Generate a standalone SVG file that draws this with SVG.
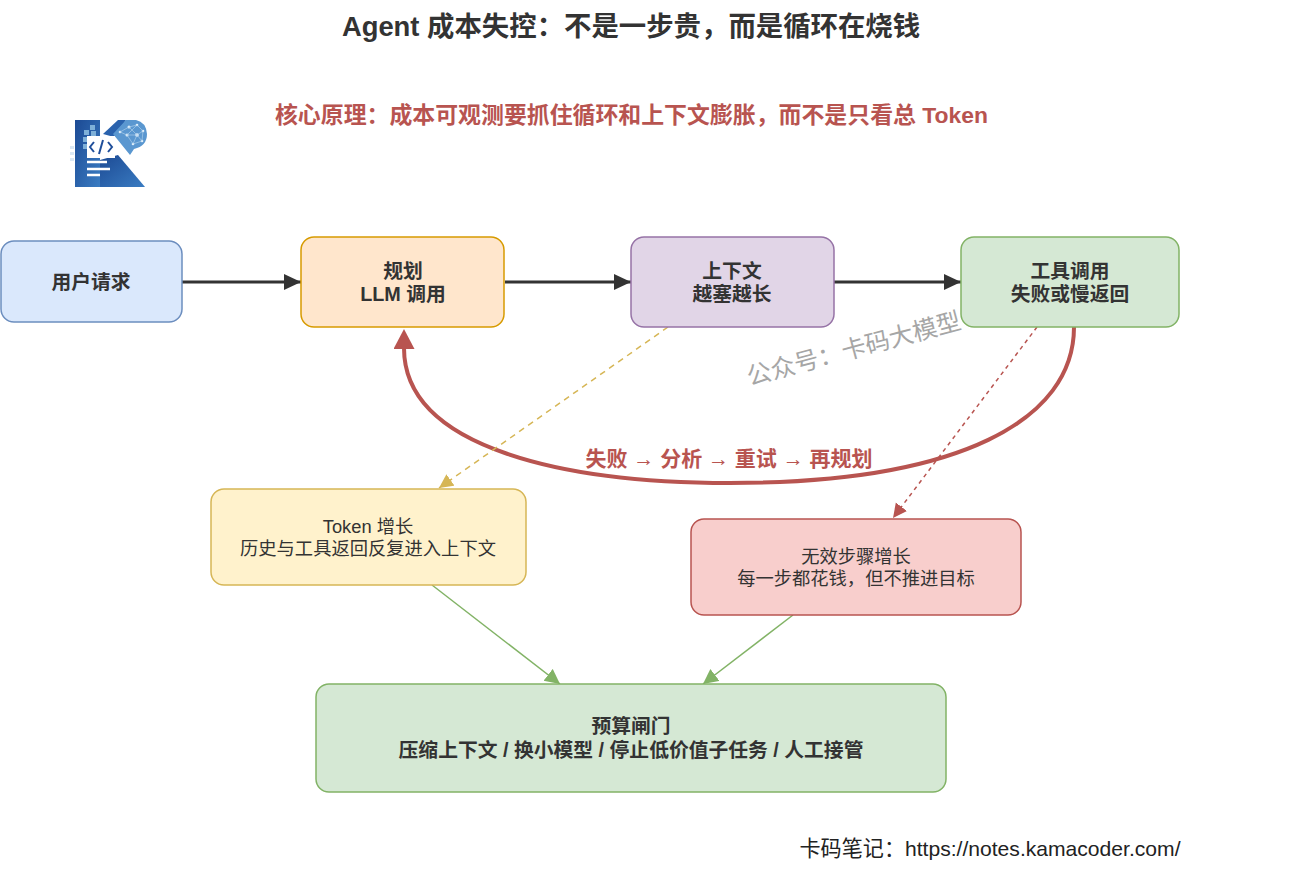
<svg xmlns="http://www.w3.org/2000/svg" width="1291" height="881" viewBox="0 0 1291 881">
<style>
text{font-family:"Liberation Sans","Noto Sans CJK SC",sans-serif;text-anchor:middle;fill:#333}
.b{font-weight:bold;font-size:19.800px}
.n{font-size:18.300px}
.box{stroke-width:1.500}
.conn{fill:none}
</style>
<defs>
<linearGradient id="lg" x1="0" y1="0" x2="1" y2="1"><stop offset="0" stop-color="#1c4a94"/><stop offset="1" stop-color="#3a7cc2"/></linearGradient>
<marker id="ak" markerUnits="userSpaceOnUse" markerWidth="18" markerHeight="16" refX="17" refY="8" orient="auto"><path d="M0 0L17 8L0 16z" fill="#333"/></marker>
<marker id="ar" markerUnits="userSpaceOnUse" markerWidth="22" markerHeight="22" refX="1" refY="10.500" orient="auto"><path d="M0 0L20 10.500L0 21z" fill="#b85450"/></marker>
<marker id="ay" markerUnits="userSpaceOnUse" markerWidth="15" markerHeight="15" refX="14" refY="7" orient="auto"><path d="M0 0L14 7L0 14z" fill="#d6b656"/></marker>
<marker id="ad" markerUnits="userSpaceOnUse" markerWidth="15" markerHeight="15" refX="14" refY="7" orient="auto"><path d="M0 0L14 7L0 14z" fill="#b85450"/></marker>
<marker id="ag" markerUnits="userSpaceOnUse" markerWidth="16" markerHeight="16" refX="15" refY="7.500" orient="auto"><path d="M0 0L15 7.500L0 15z" fill="#82b366"/></marker>
</defs>
<rect width="1291" height="881" fill="#fff"/>
<text x="631" y="36" font-size="27.400" font-weight="bold">Agent 成本失控：不是一步贵，而是循环在烧钱</text>
<text x="631.500" y="123" font-size="22.900" font-weight="bold" style="fill:#b85450">核心原理：成本可观测要抓住循环和上下文膨胀，而不是只看总 Token</text>
<g id="logo">
<path d="M75 120H100V187H75z" fill="url(#lg)"/>
<path d="M100 160L118 155L145 187H100z" fill="url(#lg)"/>
<path d="M103 134L118 120H126L114 137z" fill="#2a62ad"/>
<path d="M84 130h5v5h-5zM90 125h5v5h-5zM83 137h5v5h-5zM83 144h4v5h-4zM91 131h5v5h-5z" fill="#7eb0d8"/>
<path d="M70 146h4v3h-4zM70 152h4v3h-4zM70 158h4v3h-4z" fill="#dbe8f4"/>
<path d="M113 134L126 120H136Q146 122 147 134Q147 146 134 149L130 155z" fill="#5a97d0"/>
<g fill="#e3f0fa"><circle cx="120" cy="132" r="1.300"/><circle cx="129" cy="127" r="1.500"/><circle cx="137" cy="125" r="1.300"/><circle cx="143" cy="131" r="1.300"/><circle cx="127" cy="135" r="1.500"/><circle cx="137" cy="135" r="1.800"/><circle cx="133" cy="144" r="1.300"/><circle cx="142" cy="141" r="1.300"/></g>
<path d="M120 132L129 127L137 125L143 131L137 135L127 135L120 132M129 127L137 135L133 144L127 135M137 125L127 135M137 135L142 141L133 144M143 131L142 141" fill="none" stroke="#b5d5ef" stroke-width=".6"/>
<rect x="87" y="136" width="28" height="22" fill="#fff"/>
<path d="M94 142L90 147L94 152M108 142L112 147L108 152M103 140L99 154" fill="none" stroke="#1f4e9a" stroke-width="2"/>
<path d="M87 162H107M87 169H110M87 175H100" stroke="#fff" stroke-width="2.500"/>
</g>
<g id="connectors" class="conn">
<path d="M182 282H301" stroke="#333" stroke-width="3" marker-end="url(#ak)"/>
<path d="M505 282H631" stroke="#333" stroke-width="3" marker-end="url(#ak)"/>
<path d="M834 282H961" stroke="#333" stroke-width="3" marker-end="url(#ak)"/>
<path d="M1074 327C1074 420 960 483 730 483C570 483 404 450 404 348" stroke="#b85450" stroke-width="4" marker-end="url(#ar)"/>
<path d="M668 327L439 488" stroke="#d6b656" stroke-width="1.500" stroke-dasharray="6 5" marker-end="url(#ay)"/>
<path d="M1037 327L893 518" stroke="#b85450" stroke-width="1.500" stroke-dasharray="4 4" marker-end="url(#ad)"/>
<path d="M432 585L560 684" stroke="#82b366" stroke-width="1.500" marker-end="url(#ag)"/>
<path d="M793 615L703 684" stroke="#82b366" stroke-width="1.500" marker-end="url(#ag)"/>
</g>
<g id="loop-label"><text x="729" y="466" font-size="21" font-weight="bold" style="fill:#b85450">失败 → 分析 → 重试 → 再规划</text></g>
<g id="n1"><rect class="box" x="1" y="241" width="181" height="81" rx="13" fill="#dae8fc" stroke="#6c8ebf"/><text class="b" x="91" y="289">用户请求</text></g>
<g id="n2"><rect class="box" x="301" y="237" width="203" height="90" rx="13" fill="#ffe6cc" stroke="#d79b00"/><text class="b" x="403" y="278">规划</text><text class="b" x="403" y="301">LLM 调用</text></g>
<g id="n3"><rect class="box" x="631" y="237" width="203" height="90" rx="13" fill="#e1d5e7" stroke="#9673a6"/><text class="b" x="732" y="278">上下文</text><text class="b" x="732" y="301">越塞越长</text></g>
<g id="n4"><rect class="box" x="961" y="237" width="218" height="90" rx="13" fill="#d5e8d4" stroke="#82b366"/><text class="b" x="1070" y="278">工具调用</text><text class="b" x="1070" y="301">失败或慢返回</text></g>
<g id="n5"><rect class="box" x="211" y="489" width="315" height="96" rx="13" fill="#fff2cc" stroke="#d6b656"/><text class="n" x="368" y="533">Token 增长</text><text class="n" x="368" y="555">历史与工具返回反复进入上下文</text></g>
<g id="n6"><rect class="box" x="691" y="519" width="330" height="96" rx="13" fill="#f8cecc" stroke="#b85450"/><text class="n" x="856" y="563">无效步骤增长</text><text class="n" x="856" y="585">每一步都花钱，但不推进目标</text></g>
<g id="n7"><rect class="box" x="316" y="684" width="630" height="108" rx="13" fill="#d5e8d4" stroke="#82b366"/><text class="b" x="631" y="733">预算闸门</text><text class="b" x="631" y="757">压缩上下文 / 换小模型 / 停止低价值子任务 / 人工接管</text></g>
<text transform="translate(856 357) rotate(-15)" font-size="24.500" style="fill:#a6a6a6">公众号：卡码大模型</text>
<text x="990" y="856" font-size="21.100" style="fill:#222">卡码笔记：https://notes.kamacoder.com/</text>
</svg>
